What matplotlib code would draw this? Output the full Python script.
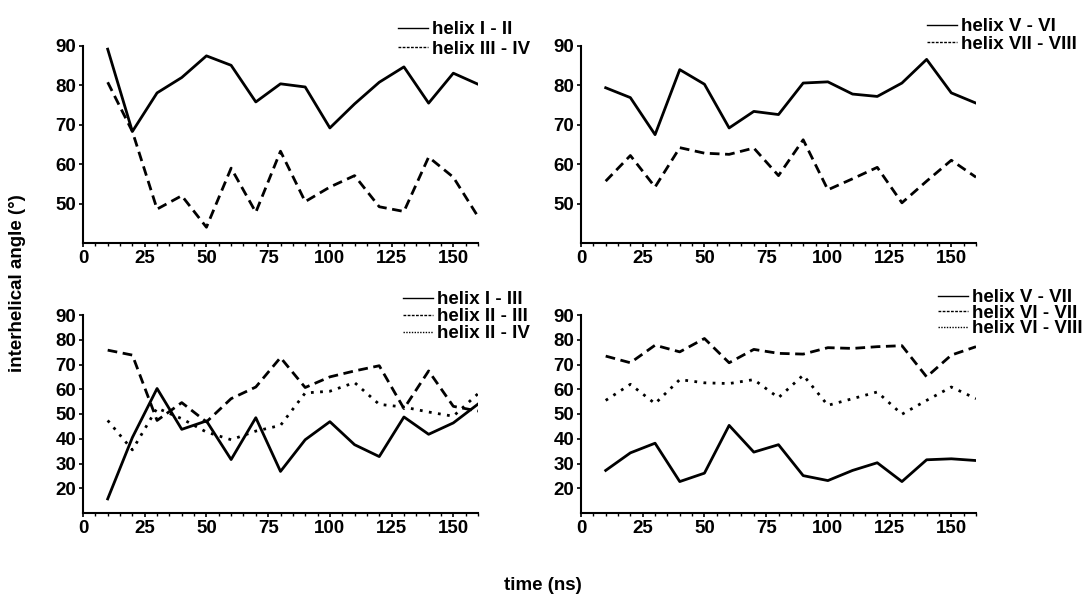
import matplotlib
matplotlib.use("Agg")
import matplotlib.pyplot as plt
from matplotlib.lines import Line2D
from matplotlib.ticker import MultipleLocator

plt.rcParams['font.family'] = ['Liberation Sans', 'DejaVu Sans']
plt.rcParams['font.weight'] = 'bold'

time_ns = [10, 20, 30, 40, 50, 60, 70, 80, 90, 100, 110, 120, 130, 140, 150, 160]

helix_I_II = [89.2, 68.3, 78.1, 82.0, 87.5, 85.1, 75.8, 80.4, 79.6, 69.2, 75.3, 80.8, 84.7, 75.5, 83.1, 80.3]
helix_III_IV = [80.8, 68.3, 48.6, 52.0, 44.0, 59.0, 47.8, 63.3, 50.5, 54.2, 57.1, 49.2, 48.0, 61.8, 56.7, 46.7]

helix_V_VI = [79.4, 76.9, 67.5, 84.0, 80.3, 69.2, 73.4, 72.6, 80.6, 80.9, 77.8, 77.2, 80.6, 86.6, 78.1, 75.5]
helix_VII_VIII = [55.7, 62.2, 54.2, 64.2, 62.8, 62.5, 64.1, 57.1, 66.2, 53.5, 56.3, 59.2, 50.2, 55.7, 61.0, 56.7]

helix_I_III = [15.7, 40.5, 60.3, 43.8, 47.2, 31.6, 48.5, 26.8, 39.6, 46.9, 37.6, 32.8, 48.8, 41.8, 46.4, 54.0]
helix_II_III = [75.8, 73.8, 47.4, 54.6, 46.8, 56.2, 60.9, 72.8, 60.7, 65.0, 67.4, 69.5, 52.2, 67.4, 53.1, 51.2]
helix_II_IV = [47.4, 35.5, 52.4, 48.1, 42.7, 39.6, 43.1, 45.4, 58.5, 59.2, 62.7, 53.9, 52.8, 50.8, 49.1, 58.2]

helix_V_VII = [27.2, 34.3, 38.2, 22.7, 26.1, 45.4, 34.6, 37.6, 25.1, 23.1, 27.2, 30.3, 22.7, 31.5, 31.9, 31.2]
helix_VI_VII = [73.4, 70.7, 77.8, 75.1, 80.5, 70.7, 76.1, 74.5, 74.2, 76.8, 76.5, 77.2, 77.6, 65.0, 73.8, 77.2]
helix_VI_VIII = [55.5, 62.0, 54.2, 63.9, 62.6, 62.3, 63.9, 56.6, 65.7, 53.5, 56.2, 58.9, 49.9, 55.5, 60.9, 56.2]

x_ticks = [0, 25, 50, 75, 100, 125, 150]
y_ticks_top = [50, 60, 70, 80, 90]
y_ticks_bottom = [20, 30, 40, 50, 60, 70, 80, 90]

W, H = 1083, 596
FS = 13.5
fig = plt.figure(figsize=(W / 100, H / 100), dpi=100)

def px_axes(l, r, t, b):
    return fig.add_axes([l / W, 1 - b / H, (r - l) / W, (b - t) / H])

ax1 = px_axes(83, 478, 46, 243)
ax2 = px_axes(581, 976, 46, 243)
ax3 = px_axes(83, 478, 315, 513)
ax4 = px_axes(581, 976, 315, 513)

solid = dict(color='black', lw=2.0, linestyle='-')
dashed = dict(color='black', lw=2.0, linestyle=(0, (3.5, 2.0)))
dotted = dict(color='black', lw=2.0, linestyle=(0, (1, 2.3)))

def style(ax, ylo, yticks):
    ax.set_xlim(0, 160)
    ax.set_ylim(ylo, 90)
    ax.set_xticks(x_ticks)
    ax.xaxis.set_minor_locator(MultipleLocator(5))
    ax.set_yticks(yticks)
    for s in ['top', 'right']:
        ax.spines[s].set_visible(False)
    for s in ['left', 'bottom']:
        ax.spines[s].set_linewidth(1.5)
    ax.tick_params(axis='both', which='major', length=3, width=1.2, labelsize=FS, pad=2)
    ax.tick_params(axis='x', which='minor', length=2, width=1.0)
    for lab in ax.get_xticklabels() + ax.get_yticklabels():
        lab.set_fontweight('bold')

def add_legend(ax, handles, labels, anchor, spacing):
    leg = ax.legend(handles, labels, loc='upper left', bbox_to_anchor=anchor,
                    bbox_transform=fig.transFigure, frameon=False,
                    handlelength=1.6, handletextpad=0.22, labelspacing=spacing,
                    borderaxespad=0, borderpad=0,
                    prop={'weight': 'bold', 'size': FS})
    return leg

def leg_handles(n):
    styles = [dict(color='black', lw=1.0, linestyle='-'),
              dict(color='black', lw=1.0, linestyle=(0, (2, 1))),
              dict(color='black', lw=1.0, linestyle=(0, (1, 1)))]
    return [Line2D([], [], **styles[i]) for i in range(n)]

# Panel 1
ax1.plot(time_ns, helix_I_II, **solid)
ax1.plot(time_ns, helix_III_IV, **dashed)
style(ax1, 40, y_ticks_top)
add_legend(ax1, leg_handles(2), ['helix I - II', 'helix III - IV'], (398 / W, 1 - 21 / H), 0.12)

# Panel 2
ax2.plot(time_ns, helix_V_VI, **solid)
ax2.plot(time_ns, helix_VII_VIII, **dashed)
style(ax2, 40, y_ticks_top)
add_legend(ax2, leg_handles(2), ['helix V - VI', 'helix VII - VIII'], (927 / W, 1 - 18 / H), 0.02)

# Panel 3
ax3.plot(time_ns, helix_I_III, **solid)
ax3.plot(time_ns, helix_II_III, **dashed)
ax3.plot(time_ns, helix_II_IV, **dotted)
style(ax3, 10, y_ticks_bottom)
add_legend(ax3, leg_handles(3), ['helix I - III', 'helix II - III', 'helix II - IV'], (403 / W, 1 - 291 / H), 0.0)

# Panel 4
ax4.plot(time_ns, helix_V_VII, **solid)
ax4.plot(time_ns, helix_VI_VII, **dashed)
ax4.plot(time_ns, helix_VI_VIII, **dotted)
style(ax4, 10, y_ticks_bottom)
add_legend(ax4, leg_handles(3), ['helix V - VII', 'helix VI - VII', 'helix VI - VIII'], (938 / W, 1 - 289 / H), -0.08)

fig.text(18 / W, 1 - 283 / H, 'interhelical angle (°)', rotation=90, ha='center', va='center',
         fontsize=FS, fontweight='bold')
fig.text(543 / W, 1 - 585 / H, 'time (ns)', ha='center', va='center', fontsize=FS, fontweight='bold')

fig.savefig('out.png', dpi=100)
